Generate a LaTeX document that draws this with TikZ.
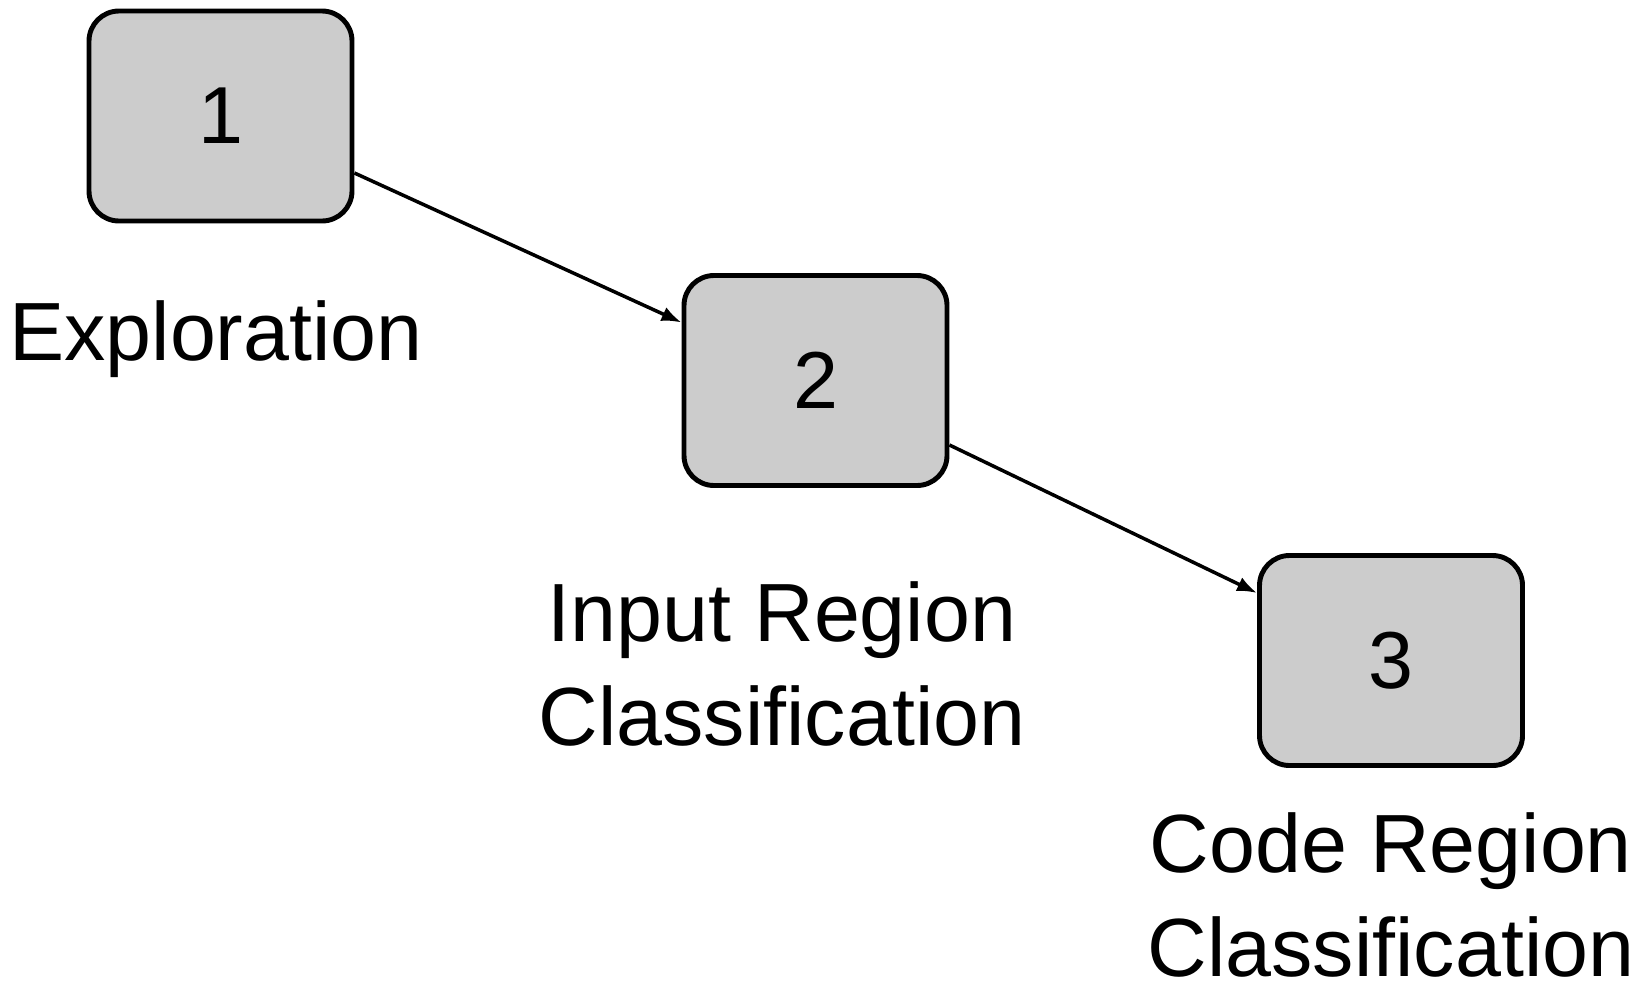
\documentclass[tikz,border=0pt]{standalone}
\usepackage{fontspec}
\setmainfont{Liberation Sans}
\usepackage{tikz}
\usetikzlibrary{shapes,arrows,positioning,calc,arrows.meta}

\begin{document}
\begin{tikzpicture}[stage/.style={rectangle, rounded corners=0.3cm, draw, line width=1.4pt, fill=black!20, minimum width=2.63cm, minimum height=2.1cm, font=\fontsize{23}{29.5}\selectfont},
    lbl/.style={anchor=base, align=center, inner sep=0pt, font=\fontsize{23.5}{29.5}\selectfont},
    flow/.style={line width=1pt, -{Latex[length=0.2cm,width=0.15cm]}}]
    \useasboundingbox (0,0) rectangle (16.46,-9.84);
    \node[stage] (S1) at (2.205,-1.16) {1};
    \node[stage] (S2) at (8.155,-3.805) {2};
    \node[stage] (S3) at (13.91,-6.605) {3};
    \node[lbl] (L1) at (2.16,-3.60) {Exploration};
    \node[lbl] (L2) at (7.82,-7.45) {Input Region\\Classification};
    \node[lbl] (L3) at (13.91,-9.76) {Code Region\\Classification};
    \draw[flow] ([yshift=-0.57cm]S1.east) -- ([yshift=0.58cm]S2.west);
    \draw[flow] ([yshift=-0.645cm]S2.east) -- ([yshift=0.675cm]S3.west);
\end{tikzpicture}
\end{document}
